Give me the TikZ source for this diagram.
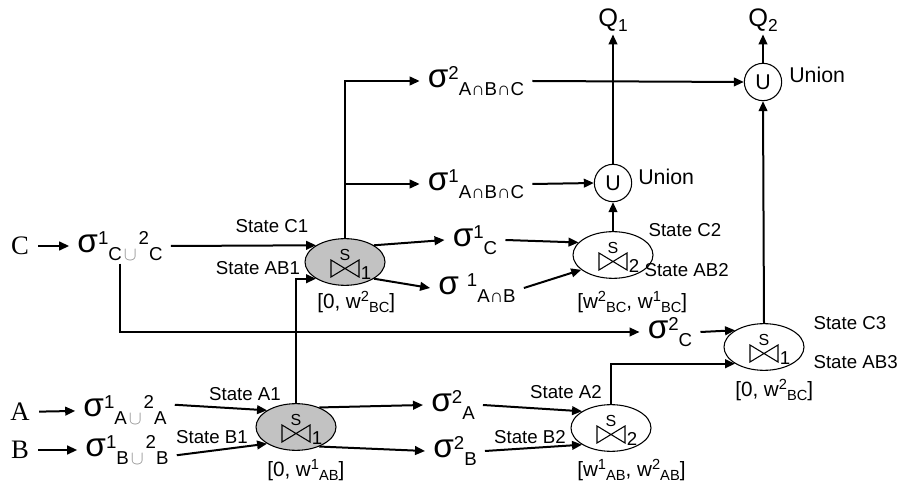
\documentclass[tikz,border=0pt]{standalone}
\usepackage{fontspec}
\setmainfont{Liberation Sans}
\newfontfamily\inputfont{Liberation Serif}
\usetikzlibrary{arrows.meta,shapes.geometric}

% sigma with raised / lowered scripts
\newcommand\sg{{\fontsize{25}{25}\selectfont σ}}
\newcommand\hi[1]{\raisebox{6pt}{\fontsize{14}{14}\selectfont #1}}
\newcommand\lo[1]{\raisebox{-6pt}{\fontsize{14}{14}\selectfont #1}}
\newcommand\cupsym{\hspace{1.5pt}{\color{black!45}\(\cup\)}\hspace{1.5pt}}
% window bounds
\newcommand\whi[1]{\raisebox{5.5pt}{\fontsize{11}{11}\selectfont #1}}
\newcommand\wlo[1]{\raisebox{-3pt}{\fontsize{11}{11}\selectfont #1}}

\tikzset{
  joinsym/.pic={
    \draw[line width=0.8pt] (-14,-2) -- (-14,15) -- (14,-2) -- (14,15) -- cycle;
    \node[inner sep=0pt, font=\fontsize{12}{12}\selectfont] (-s) at (0,-7) {S};
    \node[inner sep=0pt, font=\fontsize{14}{14}\selectfont] (-n) at (21,11) {#1};
  }
}

\begin{document}
\begin{tikzpicture}[
  x=0.75pt, y=-0.75pt,
  arr/.style={-{Triangle[length=7.5pt,width=6.5pt]}, line width=1.5pt},
  joinnode/.style={ellipse, draw, line width=0.8pt, minimum width=60pt,
    minimum height=35pt, inner sep=0pt},
  grey/.style={fill=black!24},
  unionnode/.style={circle, draw, line width=0.8pt, minimum size=28pt,
    inner sep=0pt, font=\fontsize{16}{16}\selectfont},
  sigma/.style={inner xsep=6pt, inner ysep=2pt},
  statelbl/.style={inner sep=1pt, font=\fontsize{14}{14}\selectfont},
  winlbl/.style={anchor=west, inner sep=0pt, font=\fontsize{15.5}{15.5}\selectfont},
  inlbl/.style={inner xsep=7pt, font=\inputfont\fontsize{20}{20}\selectfont},
  qlbl/.style={inner sep=2pt, font=\fontsize{19}{19}\selectfont}
]
  \useasboundingbox (0,0) rectangle (904,488);

  % joins
  \node[joinnode, grey] (j1) at (345,262) {};
  \node[joinnode] (j2) at (613,255) {};
  \node[joinnode] (j3) at (764,347) {};
  \node[joinnode, grey] (j4) at (296,427) {};
  \node[joinnode] (j5) at (611,428) {};
  \pic (b1) at (j1) {joinsym=1};
  \pic (b2) at (j2) {joinsym=2};
  \pic (b3) at (j3) {joinsym=1};
  \pic (b4) at (j4) {joinsym=1};
  \pic (b5) at (j5) {joinsym=2};

  \node[unionnode] (u1) at (613,183) {U};
  \node[unionnode] (u2) at (763,82) {U};
  \node[anchor=west, inner sep=0pt, font=\fontsize{16}{16}\selectfont] (un1) at (638,177) {Union};
  \node[anchor=west, inner sep=0pt, font=\fontsize{16}{16}\selectfont] (un2) at (789,75) {Union};
  \node[qlbl] (q1) at (613,20) {Q\raisebox{-4pt}{\fontsize{13}{13}\selectfont 1}};
  \node[qlbl] (q2) at (763,20) {Q\raisebox{-4pt}{\fontsize{13}{13}\selectfont 2}};

  % inputs
  \node[inlbl] (c) at (20,246) {C};
  \node[inlbl] (a) at (20,412) {A};
  \node[inlbl] (b) at (20,450) {B};
  \node[sigma] (sc) at (120,246) {\sg\hi{1}\lo{C\cupsym}\hi{2}\lo{C}};
  \node[sigma] (sa) at (125,410) {\sg\hi{1}\lo{A\cupsym}\hi{2}\lo{A}};
  \node[sigma] (sb) at (127,450) {\sg\hi{1}\lo{B\cupsym}\hi{2}\lo{B}};

  % intermediate streams
  \node[sigma] (s2abc) at (476,81) {\sg\hi{2}\lo{A∩B∩C}};
  \node[sigma] (s1abc) at (476,184) {\sg\hi{1}\lo{A∩B∩C}};
  \node[sigma] (s1c) at (475,240) {\sg\hi{1}\lo{C}};
  \node[sigma] (s1ab) at (477,288) {\sg\hspace{6pt}\hi{1}\lo{A∩B}};
  \node[sigma] (s2c) at (670,332) {\sg\hi{2}\lo{C}};
  \node[sigma] (s2a) at (453,405) {\sg\hi{2}\lo{A}};
  \node[sigma] (s2b) at (455,451) {\sg\hi{2}\lo{B}};

  % state labels
  \node[statelbl] (stc1) at (272,226) {State C1};
  \node[statelbl] (stab1) at (258,268) {State AB1};
  \node[statelbl] (sta1) at (245,394) {State A1};
  \node[statelbl] (stb1) at (212,437) {State B1};
  \node[statelbl] (sta2) at (566,392) {State A2};
  \node[statelbl] (stb2) at (530,437) {State B2};
  \node[statelbl, anchor=west] (stc2) at (647,230) {State C2};
  \node[statelbl, anchor=west] (stab2) at (643,270) {State AB2};
  \node[statelbl, anchor=west] (stc3) at (812,323) {State C3};
  \node[statelbl, anchor=west] (stab3) at (812,362) {State AB3};

  % windows
  \node[winlbl] (w1) at (317,302) {[0, w\whi{2}\wlo{BC}]};
  \node[winlbl] (w2) at (577,302) {[w\whi{2}\wlo{BC}, w\whi{1}\wlo{BC}]};
  \node[winlbl] (w3) at (735,390) {[0, w\whi{2}\wlo{BC}]};
  \node[winlbl] (w4) at (267,470) {[0, w\whi{1}\wlo{AB}]};
  \node[winlbl] (w5) at (577,470) {[w\whi{1}\wlo{AB}, w\whi{2}\wlo{AB}]};

  % connectors
  \draw[arr] (c) -- (sc);
  \draw[arr] (a) -- (sa);
  \draw[arr] (b) -- (sb);
  \draw[arr] (sc.east) -- (j1.150);
  \draw[arr] (j4.north) |- (j1.210);
  \draw[arr] (sa.6) -- (j4.150);
  \draw[arr] (sb.-6) -- (j4.210);
  \draw[arr] (j4.40) -- (s2a.west);
  \draw[arr] (j4.-40) -- (s2b.west);
  \draw[arr] (s2a.east) -- (j5.150);
  \draw[arr] (s2b.east) -- (j5.210);
  \draw[arr] (j1.30) -- (s1c.west);
  \draw[arr] (j1.-30) -- (s1ab.west);
  \draw[arr] (s1c.east) -- (j2.160);
  \draw[arr] (s1ab.east) -- (j2.205);
  \draw[arr] (j1.north) |- (s2abc.west);
  \draw[arr] (j1.north |- s1abc) -- (s1abc.west);
  \draw[arr] (s1abc.east) -- (u1.west);
  \draw[arr] (s2abc.east) -- (u2.west);
  \draw[arr] (j2.north) -- (u1.south);
  \draw[arr] (u1.north) -- (q1.south);
  \draw[arr] (u2.north) -- (q2.south);
  \draw[arr] (sc.south) |- (s2c.west);
  \draw[arr] (s2c.east) -- (j3.150);
  \draw[arr] (j5.north) |- (j3.210);
  \draw[arr] (j3.north) -- (u2.south);
\end{tikzpicture}
\end{document}
